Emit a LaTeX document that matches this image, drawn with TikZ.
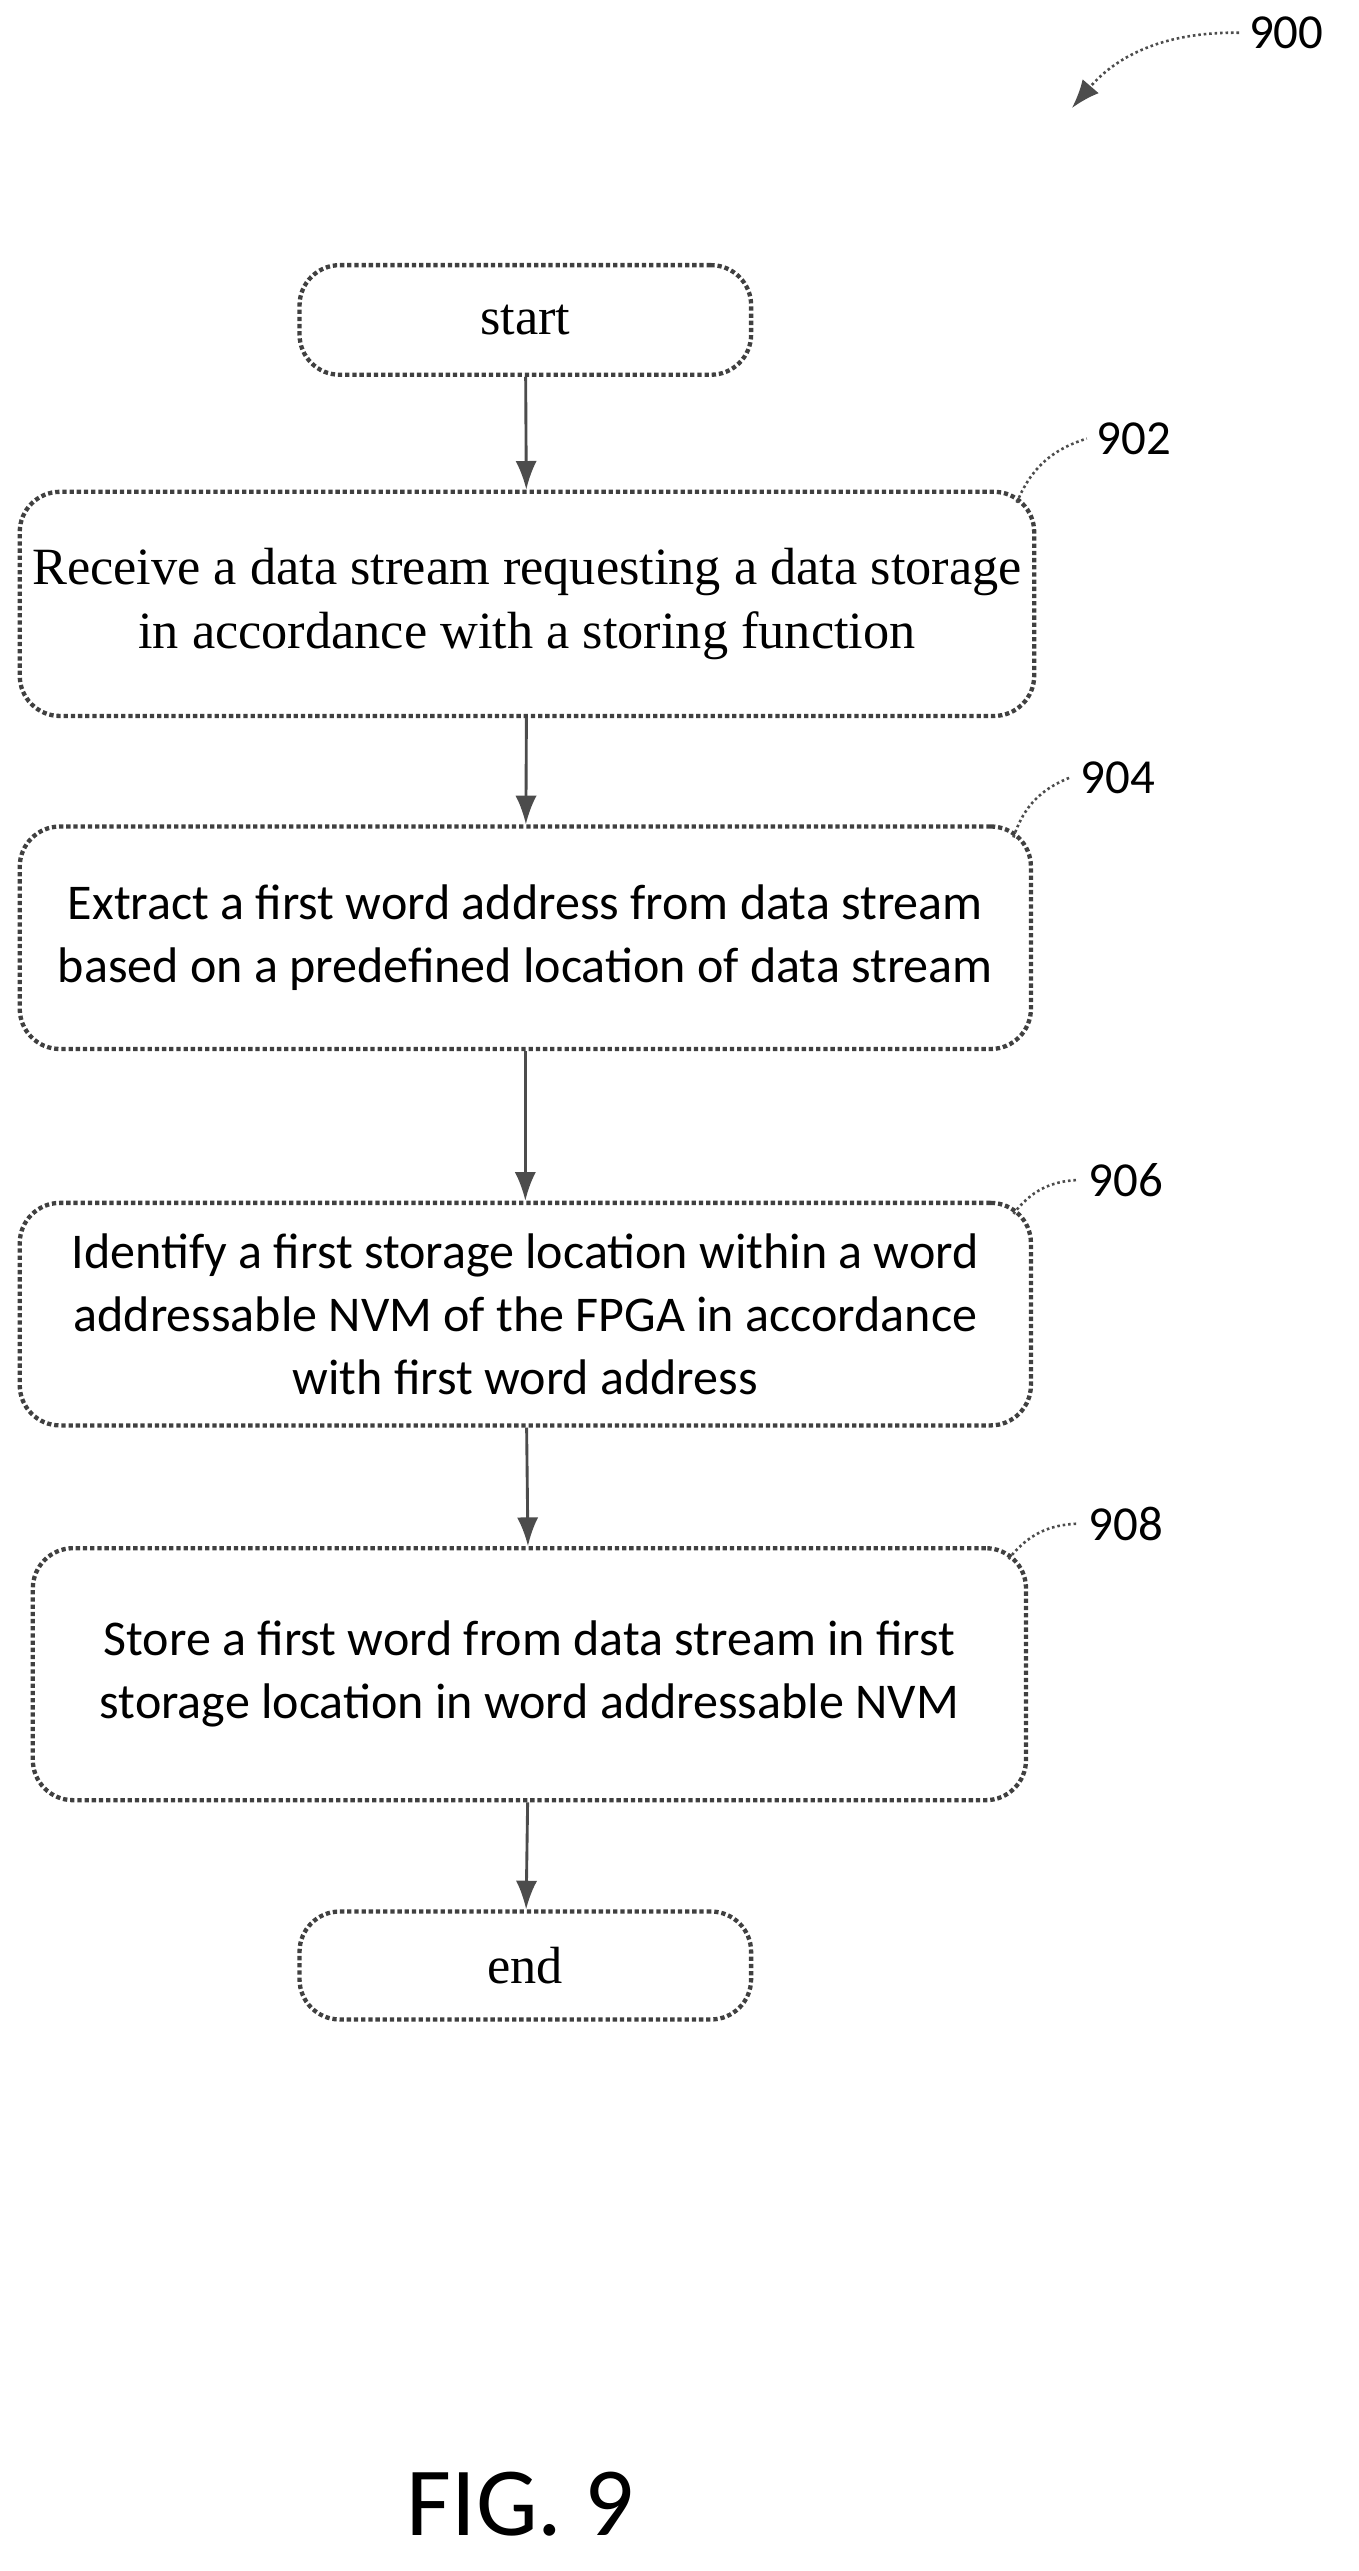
\documentclass[tikz,border=0pt]{standalone}
\usepackage{fontspec}
\setmainfont{Liberation Serif}
\newfontfamily\calib{Carlito}
\usetikzlibrary{positioning}
\usetikzlibrary{calc,arrows.meta}

\begin{document}
\begin{tikzpicture}[x=0.02cm,y=-0.02cm]
    % Define the styles of the flow chart
    \tikzset{step box/.style={draw=black!75, densely dotted, line width=1.5pt, rounded corners=14pt,
                              align=center, inner sep=0pt, font=\fontsize{18.2}{22}\selectfont},
             sans text/.style={font=\calib\fontsize{17.4}{22}\selectfont},
             flow arrow/.style={draw=black!70, line width=1pt, -{Latex[length=3.5mm, width=2.6mm]}},
             ref label/.style={font=\calib\fontsize{17}{20}\selectfont},
             ref line/.style={draw=black!70, densely dotted, line width=0.9pt}}

    \useasboundingbox (0,0) rectangle (830,1571);

    % Draw the boxes
    \node[step box, minimum width=5.52cm, minimum height=1.34cm] (start) at (321,195.5) {start};
    \node[step box, minimum width=12.4cm, minimum height=2.74cm] (receive) at (322,369)
        {Receive a data stream requesting a data storage\\in accordance with a storing function};
    \node[step box, sans text, minimum width=12.36cm, minimum height=2.72cm] (extract) at (321,573)
        {Extract a first word address from data stream\\based on a predefined location of data stream};
    \node[step box, sans text, minimum width=12.36cm, minimum height=2.72cm] (identify) at (321,803)
        {Identify a first storage location within a word\\addressable NVM of the FPGA in accordance\\with first word address};
    \node[step box, sans text, minimum width=12.14cm, minimum height=3.08cm] (store) at (323.5,1023)
        {Store a first word from data stream in first\\storage location in word addressable NVM};
    \node[step box, minimum width=5.52cm, minimum height=1.32cm] (end) at (321,1201) {end};

    % Draw the arrows
    \draw[flow arrow] (start) -- (receive);
    \draw[flow arrow] (receive) -- (extract);
    \draw[flow arrow] (extract) -- (identify);
    \draw[flow arrow] (identify) -- (store);
    \draw[flow arrow] (store) -- (end);

    % Draw the reference numbers
    \node[ref label] (r902) at (693,268) {902};
    \node[ref label] (r904) at (683,475) {904};
    \node[ref label] (r906) at (688,721) {906};
    \node[ref label] (r908) at (688,931) {908};
    \node[ref label] (r900) at (786,20) {900};
    \draw[ref line] ($(receive.north east)+(-12,8)$) to[bend left=25] (r902.west);
    \draw[ref line] ($(extract.north east)+(-12,8)$) to[bend left=25] (r904.west);
    \draw[ref line] ($(identify.north east)+(-12,8)$) to[bend left=25] (r906.west);
    \draw[ref line] ($(store.north east)+(-12,8)$) to[bend left=25] (r908.west);
    \coordinate (p900) at (655,66);
    \draw[ref line, -{Latex[length=3.5mm, width=2.6mm]}] (r900.west) to[bend right=25] (p900);

    \node[font=\calib\fontsize{34}{40}\selectfont] (fig) at (318,1530) {FIG. 9};
\end{tikzpicture}
\end{document}
